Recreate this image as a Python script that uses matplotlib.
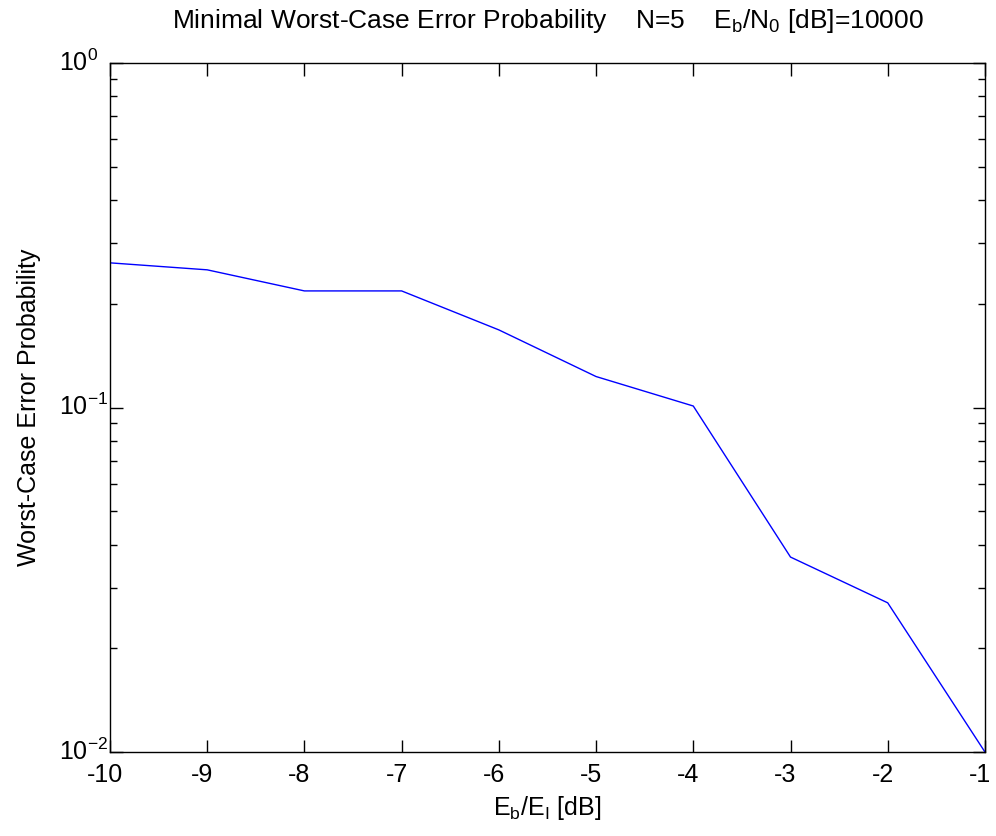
import matplotlib
matplotlib.use("Agg")
import matplotlib.pyplot as plt
from matplotlib.ticker import LogLocator, NullFormatter, FixedLocator
from matplotlib.transforms import ScaledTranslation

plt.rcParams['font.family'] = ['Liberation Sans', 'DejaVu Sans']
plt.rcParams['mathtext.fontset'] = 'custom'
plt.rcParams['mathtext.rm'] = 'Liberation Sans'
plt.rcParams['mathtext.it'] = 'Liberation Sans'
plt.rcParams['axes.unicode_minus'] = False

eb_ei_db = [-10, -9, -8, -7, -6, -5, -4, -3, -2, -1]
worst_case_pe = [0.263, 0.251, 0.218, 0.218, 0.168, 0.123, 0.101, 0.0368, 0.0271, 0.0100]
x_ticks = [-10, -9, -8, -7, -6, -5, -4, -3, -2, -1]
y_ticks = [1e-2, 1e-1, 1e0]
y_tick_labels = [r'$\mathregular{10^{-2}}$', r'$\mathregular{10^{-1}}$', r'$\mathregular{10^{0}}$']

fig = plt.figure(figsize=(9.96, 8.36), dpi=100)
ax = fig.add_axes([0.1104, 0.1005, 0.8785, 0.8241])
ax.plot(eb_ei_db, worst_case_pe, color='#0000ff', linewidth=1.0)
ax.set_yscale('log')
ax.set_xlim(-10, -1)
ax.set_ylim(1e-2, 1e0)
ax.xaxis.set_major_locator(FixedLocator(x_ticks))
ax.set_xticklabels([str(v) for v in x_ticks])
ax.set_yticks(y_ticks)
ax.set_yticklabels(y_tick_labels)
ax.yaxis.set_minor_locator(LogLocator(base=10, subs=range(2, 10)))
ax.yaxis.set_minor_formatter(NullFormatter())
ax.tick_params(which='both', direction='in', top=True, right=True, labelsize=18, width=1.0)
ax.tick_params(which='major', length=9)
ax.tick_params(which='minor', length=5)
ax.tick_params(axis='x', which='major', pad=8)
ax.tick_params(axis='y', which='major', pad=37)
yshift = ScaledTranslation(0, 3 / 100, fig.dpi_scale_trans)
for lbl in ax.get_yticklabels():
    lbl.set_horizontalalignment('left')
    lbl.set_transform(lbl.get_transform() + yshift)
shift = ScaledTranslation(-5 / 100, 0, fig.dpi_scale_trans)
for lbl in ax.get_xticklabels():
    lbl.set_transform(lbl.get_transform() + shift)
for s in ax.spines.values():
    s.set_linewidth(1.0)
ax.set_xlabel(r'$\mathregular{E_b/E_I}$ [dB]', fontsize=18, labelpad=5)
ax.set_ylabel('Worst-Case Error Probability', fontsize=18, labelpad=13)
ax.set_title(r'Minimal Worst-Case Error Probability    N=5    $\mathregular{E_b/N_0}$ [dB]=10000',
             fontsize=19, pad=25)
fig.savefig('out.png', dpi=100)
